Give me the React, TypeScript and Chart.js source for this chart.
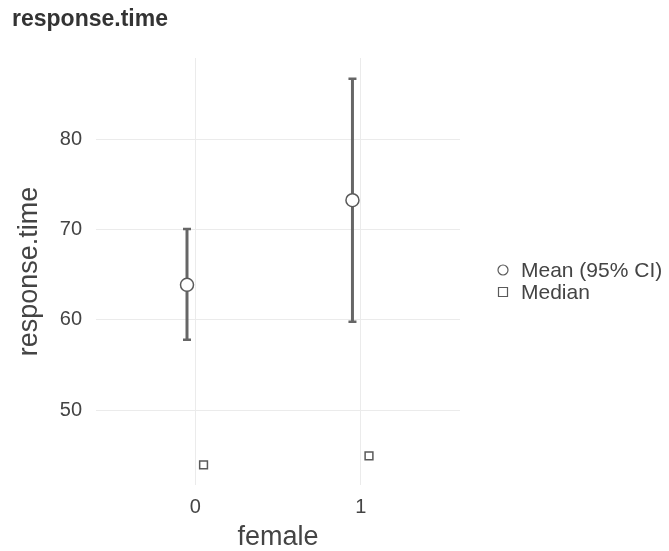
import React, { useEffect, useRef } from "react";
import { Chart, registerables } from "chart.js";

Chart.register(...registerables);

// ---- data ----
const categories = ["0", "1"];
const categoryPositions = [0, 1];
const meanValues = [63.9, 73.3];
const ciLower = [57.8, 59.8];
const ciUpper = [70.1, 86.8];
const medianValues = [43.9, 44.9];
const yTicks = [50, 60, 70, 80];
const chartTitle = "response.time";
const xTitle = "female";
const yTitle = "response.time";
const legendLabels = ["Mean (95% CI)", "Median"];

const FONT = "'Liberation Sans', Arial, Helvetica, sans-serif";
const DODGE = 0.05;
const TEXT_COLOR = "#444444";
const MARK_COLOR = "#5a5a5a";
const BAR_COLOR = "#666666";
const GRID_COLOR = "#ebebeb";

export default function App() {
  const canvasRef = useRef<HTMLCanvasElement | null>(null);

  useEffect(() => {
    const canvas = canvasRef.current;
    if (!canvas) return;

    const errorBarPlugin = {
      id: "errorBars",
      beforeDatasetsDraw(chart: any) {
        const { ctx, scales } = chart;
        const xs = scales.x;
        const ys = scales.y;
        ctx.save();
        ctx.strokeStyle = BAR_COLOR;
        ctx.lineCap = "butt";
        for (let i = 0; i < categoryPositions.length; i++) {
          const px = xs.getPixelForValue(categoryPositions[i] - DODGE);
          const pyLo = ys.getPixelForValue(ciLower[i]);
          const pyHi = ys.getPixelForValue(ciUpper[i]);
          ctx.lineWidth = 3;
          ctx.beginPath();
          ctx.moveTo(px, pyLo);
          ctx.lineTo(px, pyHi);
          ctx.stroke();
          ctx.lineWidth = 2.5;
          ctx.beginPath();
          ctx.moveTo(px - 4, pyLo);
          ctx.lineTo(px + 4, pyLo);
          ctx.moveTo(px - 4, pyHi);
          ctx.lineTo(px + 4, pyHi);
          ctx.stroke();
        }
        ctx.restore();
      },
    };

    const decorPlugin = {
      id: "decor",
      afterDraw(chart: any) {
        const { ctx } = chart;
        ctx.save();
        // title
        ctx.fillStyle = "#333333";
        ctx.font = `bold 23px ${FONT}`;
        ctx.textAlign = "left";
        ctx.textBaseline = "alphabetic";
        ctx.fillText(chartTitle, 12, 26);
        // legend
        const lx = 503;
        const rows = [270, 292];
        ctx.strokeStyle = MARK_COLOR;
        ctx.fillStyle = "#ffffff";
        ctx.lineWidth = 1.2;
        ctx.beginPath();
        ctx.arc(lx, rows[0], 5, 0, Math.PI * 2);
        ctx.fill();
        ctx.stroke();
        ctx.beginPath();
        ctx.rect(lx - 4.5, rows[1] - 4.5, 9, 9);
        ctx.fill();
        ctx.stroke();
        ctx.fillStyle = TEXT_COLOR;
        ctx.font = `21px ${FONT}`;
        ctx.textBaseline = "middle";
        ctx.fillText(legendLabels[0], 521, rows[0] + 1);
        ctx.fillText(legendLabels[1], 521, rows[1] + 1);
        ctx.restore();
      },
    };

    const chart = new Chart(canvas, {
      type: "scatter",
      data: {
        datasets: [
          {
            label: legendLabels[0],
            data: categoryPositions.map((c, i) => ({ x: c - DODGE, y: meanValues[i] })),
            pointStyle: "circle",
            pointRadius: 6.5,
            pointBorderWidth: 1.5,
            pointBackgroundColor: "#ffffff",
            pointBorderColor: MARK_COLOR,
          },
          {
            label: legendLabels[1],
            data: categoryPositions.map((c, i) => ({ x: c + DODGE, y: medianValues[i] })),
            pointStyle: "rect",
            pointRadius: 5.5,
            pointBorderWidth: 1.5,
            pointBackgroundColor: "#ffffff",
            pointBorderColor: MARK_COLOR,
          },
        ],
      },
      options: {
        responsive: false,
        animation: false,
        events: [],
        layout: { padding: { left: 0, top: 58, right: 209, bottom: 0 } },
        plugins: {
          legend: { display: false },
          title: { display: false },
          tooltip: { enabled: false },
        },
        scales: {
          x: {
            type: "linear",
            min: -0.6,
            max: 1.6,
            afterBuildTicks(scale: any) {
              scale.ticks = categoryPositions.map((v) => ({ value: v }));
            },
            afterFit(scale: any) {
              scale.height = 66;
            },
            ticks: {
              callback: (v: any) => {
                const idx = categoryPositions.indexOf(Number(v));
                return idx >= 0 ? categories[idx] : "";
              },
              color: TEXT_COLOR,
              font: { family: FONT, size: 20, lineHeight: 1.2 },
              padding: 10,
              maxRotation: 0,
              autoSkip: false,
            },
            grid: { color: GRID_COLOR, lineWidth: 1, drawTicks: false },
            border: { display: false },
            title: {
              display: true,
              text: xTitle,
              color: TEXT_COLOR,
              font: { family: FONT, size: 27, lineHeight: 1 },
              padding: { top: 0, bottom: 0 },
            },
          },
          y: {
            type: "linear",
            min: 41.67,
            max: 89.1,
            afterBuildTicks(scale: any) {
              scale.ticks = yTicks.map((v) => ({ value: v }));
            },
            afterFit(scale: any) {
              scale.width = 96;
            },
            ticks: {
              color: TEXT_COLOR,
              font: { family: FONT, size: 20 },
              padding: 14,
              autoSkip: false,
            },
            grid: { color: GRID_COLOR, lineWidth: 1, drawTicks: false },
            border: { display: false },
            title: {
              display: true,
              text: yTitle,
              color: TEXT_COLOR,
              font: { family: FONT, size: 27, lineHeight: 1 },
              padding: { top: 16, bottom: 0 },
            },
          },
        },
      },
      plugins: [errorBarPlugin, decorPlugin],
    } as any);

    return () => chart.destroy();
  }, []);

  return (
    <div style={{ position: "fixed", left: 0, top: 0, width: 669, height: 551, background: "#ffffff" }}>
      <canvas ref={canvasRef} width={669} height={551} style={{ width: 669, height: 551, display: "block" }} />
    </div>
  );
}
